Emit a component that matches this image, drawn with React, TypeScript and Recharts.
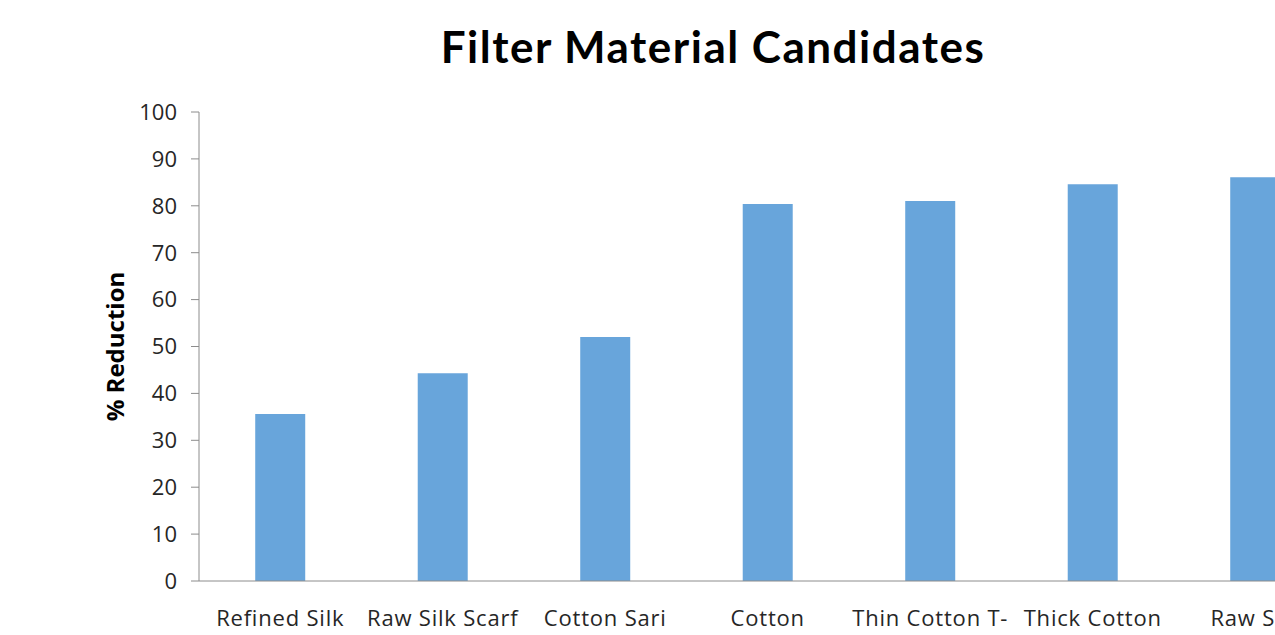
import { BarChart, Bar, XAxis, YAxis } from "recharts";

// categories and % reduction (the right end is cut off)
const materials = [
  "Refined Silk",
  "Raw Silk Scarf",
  "Cotton Sari",
  "Cotton",
  "Thin Cotton T-",
  "Thick Cotton",
  "Raw Silk",
];
const reduction = [35.6, 44.3, 52.0, 80.4, 81.0, 84.6, 86.1];
const yTicks = [0, 10, 20, 30, 40, 50, 60, 70, 80, 90, 100];

const chartData = materials.map((name, i) => ({ name, reduction: reduction[i] }));

const TITLE_FONT = "Lato, 'Open Sans', sans-serif";
const FONT = "'Open Sans', Lato, sans-serif";

const CategoryTick = ({ x, y, payload }: { x?: number; y?: number; payload?: { value: string } }) => (
  <text
    x={x}
    y={y}
    dy={37}
    textAnchor="middle"
    fill="#262626"
    fontSize={22}
    letterSpacing={0.8}
    fontFamily={FONT}
  >
    {payload?.value}
  </text>
);

export default function App() {
  return (
    <div
      style={{
        position: "absolute",
        left: 0,
        top: 0,
        width: 1275,
        height: 635,
        overflow: "hidden",
        background: "#fff",
      }}
    >
      <div
        style={{
          position: "absolute",
          left: 0,
          top: 18,
          width: 1426,
          textAlign: "center",
          fontFamily: TITLE_FONT,
          fontWeight: 700,
          fontSize: 44,
          letterSpacing: 1.5,
          lineHeight: "56px",
          color: "#000",
        }}
      >
        Filter Material Candidates
      </div>
      <BarChart
        width={1340}
        height={680}
        data={chartData}
        margin={{ top: 112, right: 3.5, left: 0, bottom: 39 }}
        barCategoryGap="34.6%"
      >
        <XAxis
          dataKey="name"
          height={60}
          interval={0}
          tickLine={false}
          axisLine={{ stroke: "#8c8c8c" }}
          tick={<CategoryTick />}
        />
        <YAxis
          width={199}
          domain={[0, 100]}
          ticks={yTicks}
          interval={0}
          tickSize={8}
          tickMargin={14}
          axisLine={{ stroke: "#8c8c8c" }}
          tickLine={{ stroke: "#8c8c8c" }}
          tick={{ fill: "#262626", fontSize: 22, fontFamily: FONT }}
          label={{
            value: "% Reduction",
            angle: -90,
            position: "insideLeft",
            offset: 115,
            style: {
              textAnchor: "middle",
              fontFamily: FONT,
              fontWeight: 700,
              fontSize: 24,
              fill: "#000",
            },
          }}
        />
        <Bar dataKey="reduction" fill="#68a5db" isAnimationActive={false} />
      </BarChart>
    </div>
  );
}
